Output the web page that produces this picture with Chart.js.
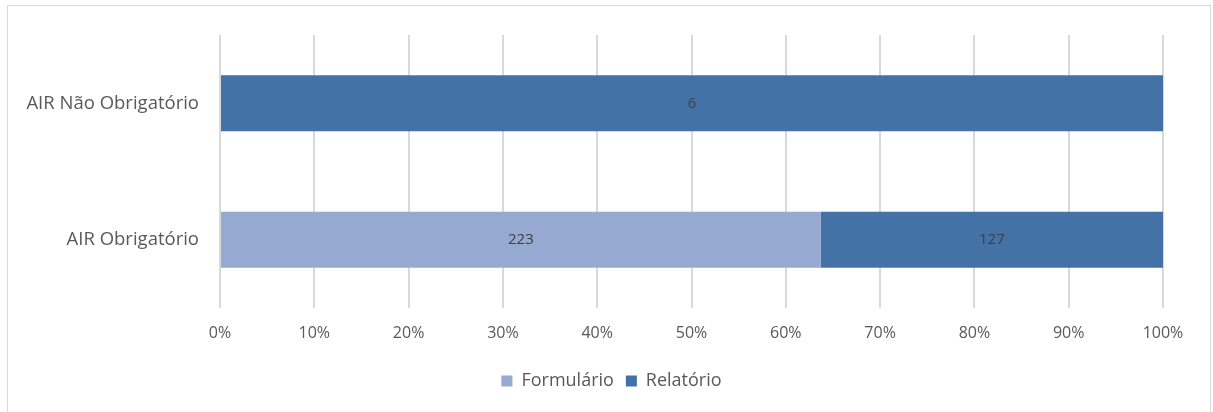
<!DOCTYPE html>
<html>
<head>
<meta charset="utf-8">
<script src="https://cdn.jsdelivr.net/npm/chart.js@4.4.1/dist/chart.umd.min.js"></script>
<style>
  html, body { margin: 0; padding: 0; background: #ffffff; overflow: hidden; }
  #frame {
    position: absolute; left: 7px; top: 5px; width: 1204px; height: 420px;
    border: 1px solid #d9d9d9; box-sizing: border-box;
  }
  #wrap { position: absolute; left: 0; top: 0; width: 1213px; height: 412px; }
</style>
</head>
<body>
<div id="frame"></div>
<div id="wrap"><canvas id="chart"></canvas></div>
<script>
// Categories and raw counts per type of AIR document
var CATEGORIES = ['AIR Não Obrigatório', 'AIR Obrigatório'];
var FORMULARIO = [0, 223];
var RELATORIO = [6, 127];
var X_TICKS = ['0%', '10%', '20%', '30%', '40%', '50%', '60%', '70%', '80%', '90%', '100%'];

var COLORS = { formulario: '#95a9d1', relatorio: '#4472a6' };
var TEXT = '#595959';
var GRID = '#d9d9d9';
var FONT = "'Open Sans', Lato, sans-serif";

function toPercent(series) {
    return series.map(function (v, i) {
        var total = FORMULARIO[i] + RELATORIO[i];
        return total ? v / total * 100 : 0;
    });
}

// Writes the raw count in the middle of each non-empty segment
var countLabels = {
    id: 'countLabels',
    afterDatasetsDraw: function (chart) {
        var ctx = chart.ctx;
        ctx.save();
        ctx.font = '15px ' + FONT;
        ctx.fillStyle = '#404040';
        ctx.textAlign = 'center';
        ctx.textBaseline = 'middle';
        chart.data.datasets.forEach(function (ds, di) {
            chart.getDatasetMeta(di).data.forEach(function (bar, i) {
                var count = ds.counts[i];
                if (!count) { return; }
                var p = bar.getProps(['x', 'y', 'base'], true);
                ctx.fillText(String(count), (p.x + p.base) / 2, p.y);
            });
        });
        ctx.restore();
    }
};

// Centre the legend on the whole canvas rather than the padded area
var legendCentre = {
    id: 'legendCentre',
    afterLayout: function (chart) {
        var lg = chart.legend;
        if (!lg) { return; }
        lg.left = 0;
        lg.right = chart.width + 10;
    }
};

Chart.defaults.font.family = FONT;
Chart.defaults.color = TEXT;

new Chart(document.getElementById('chart'), {
    type: 'bar',
    data: {
        labels: CATEGORIES,
        datasets: [
            { label: 'Formulário', data: toPercent(FORMULARIO), counts: FORMULARIO,
              backgroundColor: COLORS.formulario, barPercentage: 0.41, categoryPercentage: 1 },
            { label: 'Relatório', data: toPercent(RELATORIO), counts: RELATORIO,
              backgroundColor: COLORS.relatorio, barPercentage: 0.41, categoryPercentage: 1 }
        ]
    },
    options: {
        indexAxis: 'y',
        responsive: true,
        maintainAspectRatio: false,
        animation: false,
        layout: { padding: { left: 0, right: 50, top: 35, bottom: 12 } },
        scales: {
            x: {
                stacked: true,
                min: 0,
                max: 100,
                border: { display: false },
                grid: { color: GRID, lineWidth: 2, drawTicks: false },
                ticks: {
                    stepSize: 10,
                    padding: 16,
                    font: { size: 16 },
                    color: TEXT,
                    callback: function (v, i) { return X_TICKS[i]; }
                },
                // leave a gap between the tick labels and the legend
                afterFit: function (scale) { scale.height = 52; }
            },
            y: {
                stacked: true,
                border: { display: false },
                grid: { display: false, drawTicks: false },
                ticks: { padding: 21, font: { size: 18.5 }, color: TEXT },
                afterFit: function (scale) { scale.width = 220; }
            }
        },
        plugins: {
            legend: {
                position: 'bottom',
                labels: { boxWidth: 11, boxHeight: 11, padding: 12, font: { size: 18 }, color: TEXT }
            },
            tooltip: { enabled: false }
        }
    },
    plugins: [countLabels, legendCentre]
});
</script>
</body>
</html>
